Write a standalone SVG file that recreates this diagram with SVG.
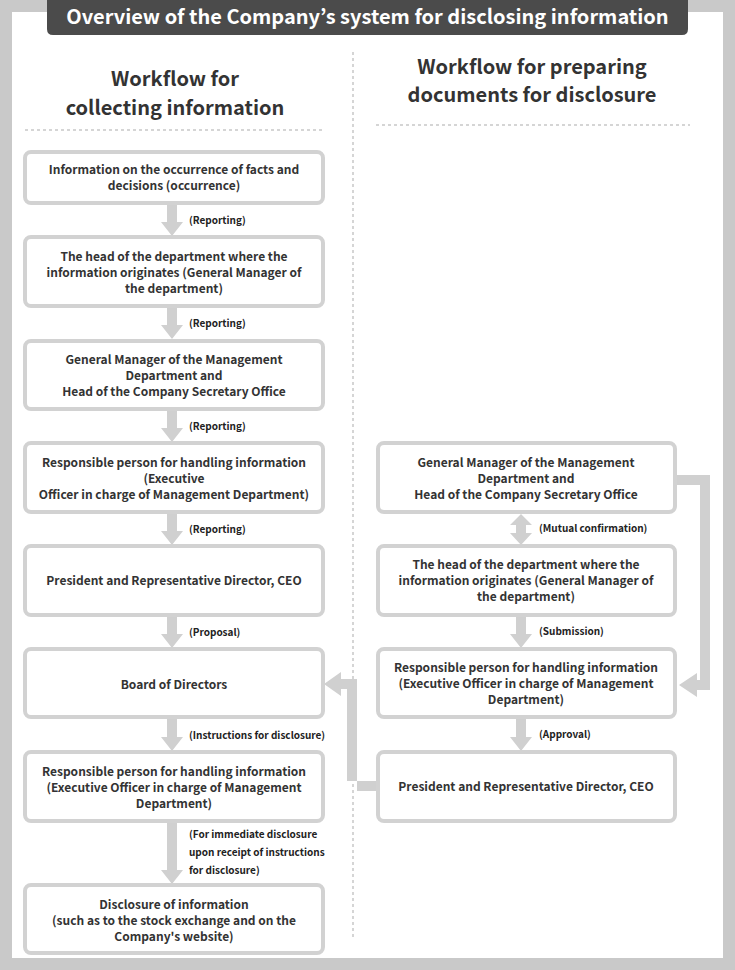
<svg xmlns="http://www.w3.org/2000/svg" width="735" height="970" viewBox="0 0 735 970">
<style>
.box{fill:#fff;stroke:#d2d2d2;stroke-width:4}
.t{font-family:"Noto Sans CJK JP","Source Sans Pro","Liberation Sans",sans-serif;font-weight:bold;font-size:12px;fill:#333;text-anchor:middle}
.l{font-family:"Noto Sans CJK JP","Source Sans Pro","Liberation Sans",sans-serif;font-weight:bold;font-size:10px;fill:#222}
.h{font-family:"Noto Sans CJK JP","Source Sans Pro","Liberation Sans",sans-serif;font-weight:bold;font-size:20px;fill:#333;text-anchor:middle}
.arr{fill:#d0d0d0}
.dot{stroke:#c8c8c8;stroke-width:1.5;stroke-dasharray:3 3;fill:none}
</style>
<rect x="0" y="0" width="735" height="970" fill="#c9c9c9"/>
<rect x="12" y="12" width="711" height="946" fill="#fff"/>
<g id="title">
<path d="M47 0 H688 V29 Q688 35 682 35 H53 Q47 35 47 29 Z" fill="#4b4b4b"/>
<text x="367.5" y="24" font-family="'Noto Sans CJK JP','Source Sans Pro','Liberation Sans',sans-serif" font-weight="bold" font-size="20" fill="#fff" text-anchor="middle">Overview of the Company’s system for disclosing information</text>
</g>
<g id="headers">
<text class="h" x="175" y="86">Workflow for</text>
<text class="h" x="175" y="115">collecting information</text>
<text class="h" x="532" y="74">Workflow for preparing</text>
<text class="h" x="532" y="102">documents for disclosure</text>
<line class="dot" x1="25" y1="130" x2="325" y2="130"/>
<line class="dot" x1="376" y1="125" x2="690" y2="125"/>
<line class="dot" x1="353" y1="52" x2="353" y2="940"/>
</g>
<g id="connectors">
<polygon class="arr" points="167,205 177,205 177,222 183,222 172,236 161,222 167,222"/>
<polygon class="arr" points="167,308 177,308 177,325 183,325 172,339 161,325 167,325"/>
<polygon class="arr" points="167,411 177,411 177,428 183,428 172,442 161,428 167,428"/>
<polygon class="arr" points="167,514 177,514 177,531 183,531 172,545 161,531 167,531"/>
<polygon class="arr" points="167,617 177,617 177,634 183,634 172,648 161,634 167,634"/>
<polygon class="arr" points="167,719 177,719 177,737 183,737 172,751 161,737 167,737"/>
<polygon class="arr" points="167,823 177,823 177,870 183,870 172,884 161,870 167,870"/>
<polygon class="arr" points="521,514 532,525 526,525 526,533 532,533 521,545 510,533 516,533 516,525 510,525"/>
<polygon class="arr" points="516,617 526,617 526,634 532,634 521,648 510,634 516,634"/>
<polygon class="arr" points="516,719 526,719 526,737 532,737 521,751 510,737 516,737"/>
<polygon class="arr" points="676,475 710,475 710,690 697,690 697,697 679,685 697,673 697,680 700,680 700,485 676,485"/>
<polygon class="arr" points="377,781 347,781 347,689 341,689 341,696 324,684 341,672 341,679 357,679 357,791 377,791" />
<text class="l" x="189" y="224">(Reporting)</text>
<text class="l" x="189" y="327">(Reporting)</text>
<text class="l" x="189" y="430">(Reporting)</text>
<text class="l" x="189" y="533">(Reporting)</text>
<text class="l" x="189" y="636">(Proposal)</text>
<text class="l" x="189" y="739">(Instructions for disclosure)</text>
<text class="l" x="189" y="838">(For immediate disclosure</text>
<text class="l" x="189" y="856">upon receipt of instructions</text>
<text class="l" x="189" y="874">for disclosure)</text>
<text class="l" x="539" y="532">(Mutual confirmation)</text>
<text class="l" x="539" y="635">(Submission)</text>
<text class="l" x="539" y="738">(Approval)</text>
</g>
<g id="n1"><rect class="box" x="25" y="152" width="298" height="51" rx="6"/>
<text class="t" x="174" y="174">Information on the occurrence of facts and</text>
<text class="t" x="174" y="190">decisions (occurrence)</text></g>
<g id="n2"><rect class="box" x="25" y="237" width="298" height="69" rx="6"/>
<text class="t" x="174" y="261">The head of the department where the</text>
<text class="t" x="174" y="277">information originates (General Manager of</text>
<text class="t" x="174" y="293">the department)</text></g>
<g id="n3"><rect class="box" x="25" y="341" width="298" height="68" rx="6"/>
<text class="t" x="174" y="364">General Manager of the Management</text>
<text class="t" x="174" y="380">Department and</text>
<text class="t" x="174" y="396">Head of the Company Secretary Office</text></g>
<g id="n4"><rect class="box" x="25" y="443" width="298" height="69" rx="6"/>
<text class="t" x="174" y="467">Responsible person for handling information</text>
<text class="t" x="174" y="483">(Executive</text>
<text class="t" x="174" y="499">Officer in charge of Management Department)</text></g>
<g id="n5"><rect class="box" x="25" y="546" width="298" height="69" rx="6"/>
<text class="t" x="174" y="585">President and Representative Director, CEO</text></g>
<g id="n6"><rect class="box" x="25" y="649" width="298" height="68" rx="6"/>
<text class="t" x="174" y="689">Board of Directors</text></g>
<g id="n7"><rect class="box" x="25" y="752" width="298" height="69" rx="6"/>
<text class="t" x="174" y="776">Responsible person for handling information</text>
<text class="t" x="174" y="792">(Executive Officer in charge of Management</text>
<text class="t" x="174" y="808">Department)</text></g>
<g id="n8"><rect class="box" x="25" y="885" width="298" height="68" rx="6"/>
<text class="t" x="174" y="909">Disclosure of information</text>
<text class="t" x="174" y="925">(such as to the stock exchange and on the</text>
<text class="t" x="174" y="941">Company's website)</text></g>
<g id="r1"><rect class="box" x="378" y="443" width="297" height="69" rx="6"/>
<text class="t" x="526" y="467">General Manager of the Management</text>
<text class="t" x="526" y="483">Department and</text>
<text class="t" x="526" y="499">Head of the Company Secretary Office</text></g>
<g id="r2"><rect class="box" x="378" y="546" width="297" height="69" rx="6"/>
<text class="t" x="526" y="569">The head of the department where the</text>
<text class="t" x="526" y="585">information originates (General Manager of</text>
<text class="t" x="526" y="601">the department)</text></g>
<g id="r3"><rect class="box" x="378" y="649" width="297" height="68" rx="6"/>
<text class="t" x="526" y="672">Responsible person for handling information</text>
<text class="t" x="526" y="688">(Executive Officer in charge of Management</text>
<text class="t" x="526" y="704">Department)</text></g>
<g id="r4"><rect class="box" x="378" y="752" width="297" height="69" rx="6"/>
<text class="t" x="526" y="791">President and Representative Director, CEO</text></g>
</svg>
